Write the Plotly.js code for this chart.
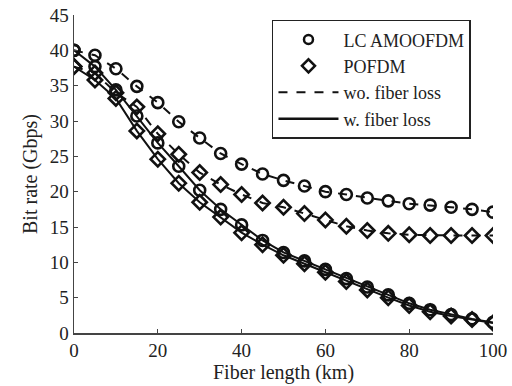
<!DOCTYPE html>
<html>
<head>
<meta charset="utf-8">
<script src="https://cdn.plot.ly/plotly-3.0.1.min.js"></script>
<style>html,body{margin:0;padding:0;background:#fff;}#chart{width:512px;height:386px;}
#chart text{font-family:"Liberation Serif","Times New Roman",serif !important;}</style>
</head>
<body>
<div id="chart"></div>
<script>
var fiberLength = [0,5,10,15,20,25,30,35,40,45,50,55,60,65,70,75,80,85,90,95,100];
var lcWithoutLoss = [40,39.3,37.4,34.9,32.6,29.9,27.6,25.4,23.9,22.5,21.6,20.8,20.0,19.6,19.1,18.7,18.3,18.1,17.8,17.5,17.1];
var lcWithLoss = [40,37.7,34.4,30.7,26.9,23.6,20.2,17.5,15.3,13.1,11.4,10.2,9.0,7.7,6.5,5.4,4.2,3.3,2.6,2.0,1.5];
var pofdmWithoutLoss = [37.7,36.8,34.0,32.0,28.2,25.3,22.7,21.0,19.6,18.4,17.8,16.9,16.0,15.1,14.5,14.1,13.9,13.8,13.8,13.8,13.8];
var pofdmWithLoss = [37.7,35.8,33.2,28.6,24.6,21.2,18.5,16.4,14.2,12.5,11.0,9.8,8.6,7.3,6.1,5.0,3.9,3.0,2.4,1.9,1.4];
var legendNames = ["LC AMOOFDM","POFDM","wo. fiber loss","w. fiber loss"];

var black = "#111";
function series(y, symbol, dash) {
  return {x: fiberLength, y: y, mode: "lines+markers", showlegend: false,
    line: {color: black, width: 2, dash: dash},
    marker: {symbol: symbol, size: 11, color: black, line: {color: black, width: 2.6}}};
}
var traces = [
  series(lcWithoutLoss, "circle-open", "dash"),
  series(pofdmWithoutLoss, "diamond-open", "dash"),
  series(lcWithLoss, "circle-open", "solid"),
  series(pofdmWithLoss, "diamond-open", "solid"),
  {x:[null], y:[null], mode:"markers", name: legendNames[0], marker:{symbol:"circle-open", size:9, color:black, line:{color:black,width:2.5}}},
  {x:[null], y:[null], mode:"markers", name: legendNames[1], marker:{symbol:"diamond-open", size:10, color:black, line:{color:black,width:2.5}}},
  {x:[null], y:[null], mode:"lines", name: legendNames[2], line:{color:black, width:2, dash:"dash"}},
  {x:[null], y:[null], mode:"lines", name: legendNames[3], line:{color:black, width:2.5}}
];
var fam = "'Liberation Serif', 'Times New Roman', serif";
var tickFont = {family: fam, size: 19, color: "#222"};
var titleFont = {family: fam, size: 20, color: "#222"};
var legendFont = {family: fam, size: 18, color: "#222"};
var layout = {
  width: 512, height: 386,
  margin: {l: 74, r: 19, t: 15, b: 53},
  paper_bgcolor: "#fff", plot_bgcolor: "#fff",
  font: tickFont,
  showlegend: true,
  legend: {x: 0.4725, y: 0.985, xanchor: "left", yanchor: "top", bordercolor: "#222", borderwidth: 1.5,
    bgcolor: "#fff", font: legendFont, itemwidth: 60, tracegroupgap: 0},
  xaxis: {range: [0, 100], tickvals: [0,20,40,60,80,100], ticks: "inside", ticklen: 4, tickcolor: "#444",
    showline: true, linecolor: "#444", linewidth: 1.5, showgrid: false, zeroline: false,
    title: {text: "Fiber length (km)", font: titleFont, standoff: 0}, tickfont: tickFont},
  yaxis: {range: [0, 45], tickvals: [0,5,10,15,20,25,30,35,40,45], ticks: "inside", ticklen: 4, tickcolor: "#444",
    showline: true, linecolor: "#444", linewidth: 1.5, showgrid: false, zeroline: false,
    title: {text: "Bit rate (Gbps)", font: titleFont, standoff: 6}, tickfont: tickFont}
};
Plotly.newPlot("chart", traces, layout, {staticPlot: true});
</script>
</body>
</html>
